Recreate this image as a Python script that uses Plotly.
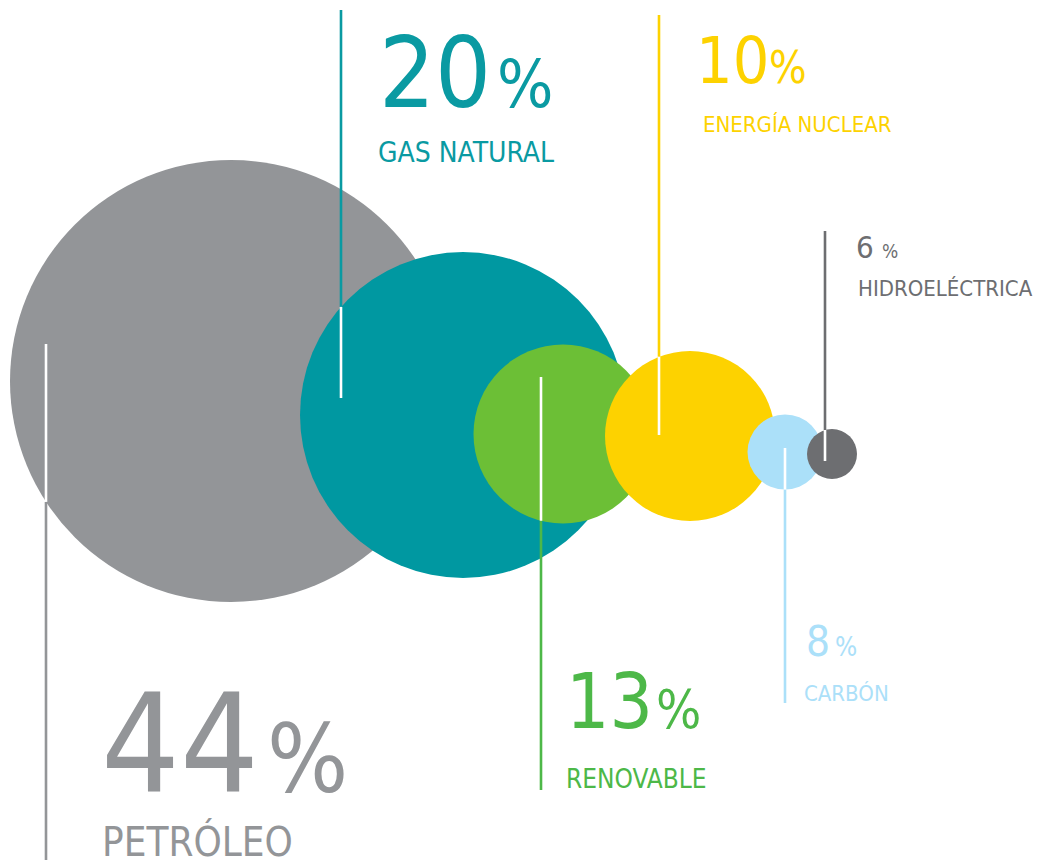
import math
import plotly.graph_objects as go

# ---- data ----
labels = ["PETRÓLEO", "GAS NATURAL", "RENOVABLE", "ENERGÍA NUCLEAR", "CARBÓN", "HIDROELÉCTRICA"]
values = [44, 20, 13, 10, 8, 6]

# ---- styles ----
circle_colors = ["#939598", "#0098A1", "#6CBF36", "#FDD200", "#ABE0F9", "#6D6E71"]
text_colors = ["#939598", "#0A9AA2", "#4DB848", "#FDD200", "#ABE0F9", "#6D6E71"]

# ---- layout (pixel geometry) ----
cx = [231, 463, 563, 690, 785, 832]
cy = [381, 415, 434, 436, 452, 454]
r = [221, 163, 89.5, 85, 37.5, 25]
line_x = [46, 341, 541, 659, 785, 825]
line_in = [344, 398, 377, 435, 448, 461]     # end of leader line inside bubble
line_out = [860, 10, 790, 15, 703, 231]      # end of leader line outside bubble

num_x = [100, 378, 565, 695, 805, 855]
num_base = [792, 107, 728, 83, 656, 258]
num_size = [138, 98, 76, 64, 42, 31]
pct_x = [266, 496, 655, 768, 834, 881]
pct_size = [95, 66, 53, 44, 26, 19]
lab_x = [101, 377, 565, 702, 803, 857]
lab_base = [855, 162, 788, 132, 701, 296]
lab_size = [40, 28, 26, 22, 22, 22]

FONT = "DejaVu Sans Condensed, Liberation Sans Narrow, sans-serif"

fig = go.Figure()

# bubbles (marker size = diameter in px since axes are 1 unit per px)
for i in range(len(values)):
    fig.add_trace(go.Scatter(
        x=[cx[i]], y=[cy[i]], mode="markers",
        marker=dict(size=2 * r[i], color=circle_colors[i], line=dict(width=0), opacity=1),
        hoverinfo="skip", showlegend=False))

# leader lines: coloured part outside bubble, white part inside
for i in range(len(values)):
    dx = line_x[i] - cx[i]
    dy = math.sqrt(max(r[i] ** 2 - dx ** 2, 0))
    edge = cy[i] - dy if line_out[i] < line_in[i] else cy[i] + dy
    fig.add_trace(go.Scatter(
        x=[line_x[i], line_x[i]], y=[line_out[i], edge], mode="lines",
        line=dict(color=text_colors[i], width=2.6), hoverinfo="skip", showlegend=False))
    fig.add_trace(go.Scatter(
        x=[line_x[i], line_x[i]], y=[edge, line_in[i]], mode="lines",
        line=dict(color="white", width=2.6), hoverinfo="skip", showlegend=False))

ann = []
for i in range(len(values)):
    c = text_colors[i]
    ann.append(dict(x=num_x[i], y=num_base[i] - 0.3465 * num_size[i], text=str(values[i]),
                    xanchor="left", yanchor="middle", showarrow=False,
                    font=dict(family=FONT, size=num_size[i], color=c)))
    ann.append(dict(x=pct_x[i], y=num_base[i] - 0.3465 * pct_size[i], text="%",
                    xanchor="left", yanchor="middle", showarrow=False,
                    font=dict(family=FONT, size=pct_size[i], color=c)))
    ann.append(dict(x=lab_x[i], y=lab_base[i] - 0.3465 * lab_size[i], text=labels[i],
                    xanchor="left", yanchor="middle", showarrow=False,
                    font=dict(family=FONT, size=lab_size[i], color=c)))
for a in ann:
    a["xref"] = "x"
    a["yref"] = "y"
    a["borderpad"] = 0

fig.update_layout(
    width=1050, height=865,
    margin=dict(l=0, r=0, t=0, b=0),
    paper_bgcolor="white", plot_bgcolor="white",
    xaxis=dict(range=[0, 1050], visible=False, fixedrange=True),
    yaxis=dict(range=[865, 0], visible=False, fixedrange=True),
    annotations=ann,
    showlegend=False,
)

fig.write_html("out.html", config={"displayModeBar": False},
               post_script="document.body.style.margin='0';document.body.style.overflow='hidden';")
